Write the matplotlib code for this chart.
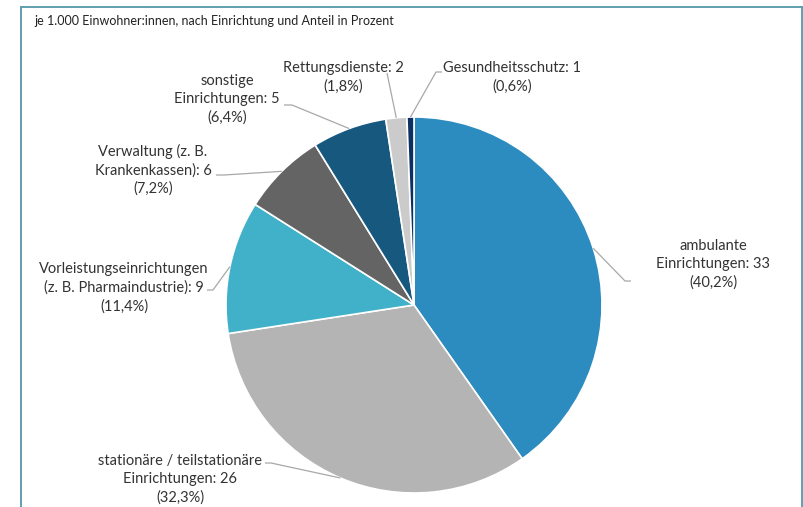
import matplotlib

matplotlib.use("Agg")

import numpy as np
import matplotlib.pyplot as plt
from matplotlib.lines import Line2D

W, H = 804, 507

# %% data
labels = [
    'ambulante\nEinrichtungen: 33\n(40,2%)',
    'stationäre / teilstationäre\nEinrichtungen: 26\n(32,3%)',
    'Vorleistungseinrichtungen\n(z. B. Pharmaindustrie): 9\n(11,4%)',
    'Verwaltung (z. B.\nKrankenkassen): 6\n(7,2%)',
    'sonstige\nEinrichtungen: 5\n(6,4%)',
    'Rettungsdienste: 2\n(1,8%)',
    'Gesundheitsschutz: 1\n(0,6%)',
]
per_1000 = [33, 26, 9, 6, 5, 2, 1]
shares = [40.2, 32.3, 11.4, 7.2, 6.4, 1.8, 0.6]
title = 'je 1.000 Einwohner:innen, nach Einrichtung und Anteil in Prozent'

colors = ['#2c8bbf', '#b4b4b4', '#41b1c9', '#646464', '#17587f', '#cbcbcb', '#0d3062']

# label centers (pixels, y from top) and leader line start/elbow
label_pos = [(713, 264), (180, 479), (124, 288), (153, 170), (227, 99), (343, 77), (512, 77)]
leader_pts = [
    [(631, 281), (625, 281)],
    [(265, 463), (271, 463)],
    [(207, 290), (213, 290)],
    [(216, 175), (224, 175)],
    [(284, 105), (292, 105)],
    [(387, 73), (387, 73)],
    [(442, 72), (436, 72)],
]

cx, cy, r = 414, 305, 188


def py(y):
    return H - y


# %% plot
fig = plt.figure(figsize=(W / 100, H / 100), dpi=100)
ax = fig.add_axes([0, 0, 1, 1])

wedges, _ = ax.pie(shares, colors=colors, startangle=90, counterclock=False,
                   center=(cx, py(cy)), radius=r,
                   wedgeprops=dict(edgecolor='white', linewidth=1.2))
ax.set_xlim(0, W)
ax.set_ylim(0, H)
ax.axis('off')

for w, lab, (lx, ly), pts in zip(wedges, labels, label_pos, leader_pts):
    mid = np.deg2rad((w.theta1 + w.theta2) / 2)
    ex, ey = cx + r * np.cos(mid), py(cy) + r * np.sin(mid)
    xs = [p[0] for p in pts] + [ex]
    ys = [py(p[1]) for p in pts] + [ey]
    ax.plot(xs, ys, color='#a8a8a8', lw=0.9, solid_capstyle='butt')
    ax.text(lx, py(ly), lab, ha='center', va='center', fontsize=10.5,
            family=['Lato', 'DejaVu Sans'], color='#333333', linespacing=1.38)

ax.text(34, py(21), title, ha='left', va='center', fontsize=9,
        family=['Lato', 'DejaVu Sans'], color='#222222')

# frame around chart (open at bottom)
frame_c = '#5f9fae'
fig.add_artist(Line2D([21 / W, 21 / W], [0, py(7) / H], color=frame_c, lw=1.4))
fig.add_artist(Line2D([21 / W, 802 / W], [py(7) / H, py(7) / H], color=frame_c, lw=1.4))
fig.add_artist(Line2D([802 / W, 802 / W], [0, py(7) / H], color=frame_c, lw=1.4))

fig.savefig('out.png', dpi=100, facecolor='white')
